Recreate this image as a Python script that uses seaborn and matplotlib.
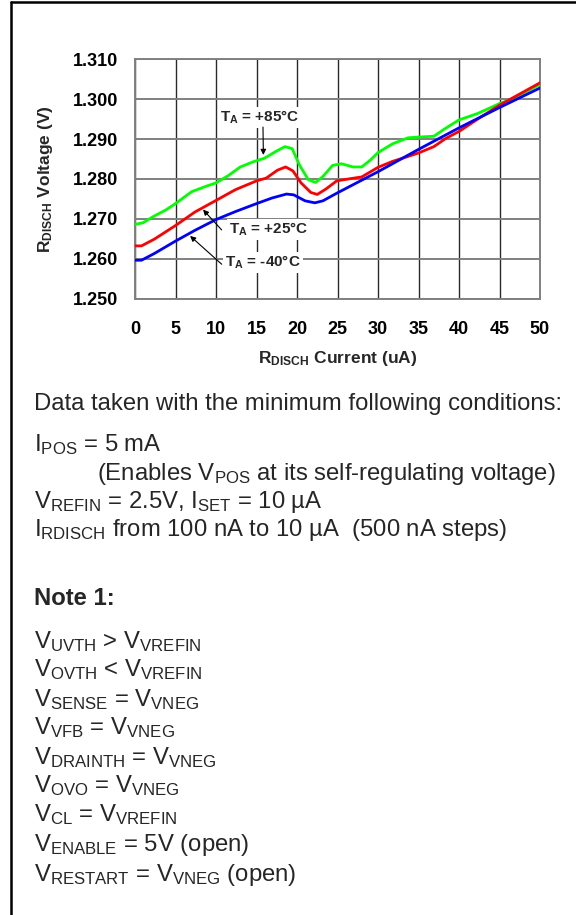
import pandas as pd
import matplotlib
matplotlib.use('Agg')
import matplotlib.pyplot as plt
import seaborn as sns
from matplotlib.lines import Line2D

# values
x_85 = [0, 1, 2.3, 3.8, 5, 7, 8.7, 10, 11.5, 13, 14.6, 16, 17.4, 18.5, 19.4,
        20.3, 21.4, 22.3, 23.2, 24.4, 25.5, 26.9, 28, 29.1, 30, 31.8, 33.7,
        35, 36.9, 38.2, 40, 42.3, 45, 46.8, 50]
v_85 = [1.2686, 1.2690, 1.2706, 1.2722, 1.2738, 1.2768, 1.2781, 1.2790,
        1.2808, 1.2830, 1.2843, 1.2852, 1.2869, 1.2881, 1.2876, 1.2835,
        1.2798, 1.2791, 1.2806, 1.2834, 1.2838, 1.2830, 1.2830, 1.2848,
        1.2866, 1.2888, 1.2903, 1.2905, 1.2907, 1.2925, 1.2948, 1.2964,
        1.2989, 1.3002, 1.3037]

x_25 = [0, 0.8, 2.4, 5, 7.4, 10, 12.4, 15, 16.2, 17.6, 18.6, 19.5, 20.5, 21.7,
        22.5, 23.6, 24.9, 26.4, 28, 30, 31.8, 33.5, 35, 36.9, 38.4, 40, 42.3,
        45, 50]
v_25 = [1.2632, 1.2632, 1.2649, 1.2683, 1.2717, 1.2746, 1.2773, 1.2795,
        1.2802, 1.2822, 1.2830, 1.2820, 1.2790, 1.2766, 1.2761, 1.2775,
        1.2795, 1.2800, 1.2805, 1.2829, 1.2844, 1.2855, 1.2865, 1.2881,
        1.2902, 1.2919, 1.2950, 1.2985, 1.3041]

x_m40 = [0, 0.8, 2.4, 5, 7.4, 10, 12.4, 15, 16.9, 18.7, 19.6, 21, 22.2, 23.2,
         24.9, 30, 35, 40, 45, 50]
v_m40 = [1.2596, 1.2596, 1.2613, 1.2644, 1.2671, 1.2698, 1.2718, 1.2738,
         1.2752, 1.2762, 1.2760, 1.2745, 1.2740, 1.2745, 1.2764, 1.2818,
         1.2874, 1.2928, 1.2979, 1.3028]

series_names = ['+85', '+25', '-40']
series_colors = ['#00ff00', '#ff0000', '#0000ff']

x_ticks = [0, 5, 10, 15, 20, 25, 30, 35, 40, 45, 50]
y_ticks = [1.250, 1.260, 1.270, 1.280, 1.290, 1.300, 1.310]

# label text, position (x, v), arrow start, arrow end
labels = [
    (r'$\mathbf{T_A}$ = +85°C', (15.4, 1.2955), (15.8, 1.2930), (15.85, 1.2860)),
    (r'$\mathbf{T_A}$ = +25°C', (16.5, 1.2673), (10.7, 1.2672), (8.4, 1.2723)),
    (r'$\mathbf{T_A}$ = -40°C', (15.8, 1.2591), (10.7, 1.2586), (6.8, 1.2657)),
]

notes_top = [
    (r'Data taken with the minimum following conditions:', 34, 410),
    (r'$\mathrm{I_{POS}}$ = 5 mA', 34, 451),
    (r'(Enables $\mathrm{V_{POS}}$ at its self-regulating voltage)', 97, 480),
    (r'$\mathrm{V_{REFIN}}$ = 2.5V, $\mathrm{I_{SET}}$ = 10 µA', 34, 508),
    (r'$\mathrm{I_{RDISCH}}$ from 100 nA to 10 µA  (500 nA steps)', 34, 536),
]
notes_bottom = [
    r'$\mathrm{V_{UVTH}}$ > $\mathrm{V_{VREFIN}}$',
    r'$\mathrm{V_{OVTH}}$ < $\mathrm{V_{VREFIN}}$',
    r'$\mathrm{V_{SENSE}}$ = $\mathrm{V_{VNEG}}$',
    r'$\mathrm{V_{VFB}}$ = $\mathrm{V_{VNEG}}$',
    r'$\mathrm{V_{DRAINTH}}$ = $\mathrm{V_{VNEG}}$',
    r'$\mathrm{V_{OVO}}$ = $\mathrm{V_{VNEG}}$',
    r'$\mathrm{V_{CL}}$ = $\mathrm{V_{VREFIN}}$',
    r'$\mathrm{V_{ENABLE}}$ = 5V (open)',
    r'$\mathrm{V_{RESTART}}$ = $\mathrm{V_{VNEG}}$ (open)',
]

sns.set_theme(style='white')
plt.rcParams['font.family'] = ['Liberation Sans', 'DejaVu Sans']
plt.rcParams['mathtext.fontset'] = 'custom'
plt.rcParams['mathtext.rm'] = 'Liberation Sans'
plt.rcParams['mathtext.it'] = 'Liberation Sans:italic'
plt.rcParams['mathtext.bf'] = 'Liberation Sans:bold'

W, H = 576, 915
fig = plt.figure(figsize=(W / 100, H / 100), dpi=100)
fig.patch.set_facecolor('white')

ax_l, ax_r, ax_t, ax_b = 135, 540, 59.3, 298.5
ax = fig.add_axes([ax_l / W, 1 - ax_b / H, (ax_r - ax_l) / W, (ax_b - ax_t) / H])

df = pd.concat([
    pd.DataFrame({'current': x_85, 'voltage': v_85, 'temp': series_names[0]}),
    pd.DataFrame({'current': x_25, 'voltage': v_25, 'temp': series_names[1]}),
    pd.DataFrame({'current': x_m40, 'voltage': v_m40, 'temp': series_names[2]}),
])
sns.lineplot(data=df, x='current', y='voltage', hue='temp',
             palette=dict(zip(series_names, series_colors)),
             estimator=None, sort=False, legend=False, lw=2.0, ax=ax, zorder=4)

ax.set_xlim(0, 50)
ax.set_ylim(1.250, 1.310)
ax.set_xticks(x_ticks)
ax.set_yticks(y_ticks)
ax.set_xticklabels([str(t) for t in x_ticks])
ax.set_yticklabels([f'{t:.3f}' for t in y_ticks])
ax.set_axisbelow(True)
ax.xaxis.grid(True, color='#2a2a2a', lw=1.0)
ax.yaxis.grid(True, color='#808080', lw=1.4)
for sp in ax.spines.values():
    sp.set_color('#808080')
    sp.set_linewidth(1.4)
ax.tick_params(axis='x', direction='out', length=5, width=1.2, color='#808080',
               pad=11, labelsize=13)
ax.tick_params(axis='y', direction='out', length=7, width=1.2, color='#808080',
               pad=5, labelsize=13)
for lab in ax.get_xticklabels() + ax.get_yticklabels():
    lab.set_fontweight('bold')
    lab.set_color('black')
ax.set_xlabel('')
ax.set_ylabel('')

fig.text((ax_l + ax_r) / 2 / W, 1 - 363 / H, r'$\mathbf{R_{DISCH}}$ Current (uA)',
         ha='center', va='baseline', fontsize=12.5, fontweight='bold')
fig.text(46 / W, 1 - (ax_t + ax_b) / 2 / H, r'$\mathbf{R_{DISCH}}$ Voltage (V)',
         ha='center', va='center', rotation=90, fontsize=12.5, fontweight='bold')

for text, pos, start, end in labels:
    ax.text(pos[0], pos[1], text, ha='center', va='center', fontsize=11,
            fontweight='bold', zorder=3,
            bbox=dict(boxstyle='square,pad=0.12', fc='white', ec='none'))
    ax.annotate('', xy=end, xytext=start, zorder=5,
                arrowprops=dict(arrowstyle='-|>', color='black', lw=0.8,
                                mutation_scale=8, shrinkA=0, shrinkB=0))

body_size = 17.2
for text, x, y in notes_top:
    fig.text(x / W, 1 - y / H, text, ha='left', va='baseline', fontsize=body_size)

fig.text(34 / W, 1 - 605 / H, 'Note 1:', ha='left', va='baseline',
         fontsize=body_size, fontweight='bold')

bottom_y = [648, 676.5, 706, 734, 764, 792, 821.5, 851, 880.5]
for text, y in zip(notes_bottom, bottom_y):
    fig.text(34 / W, 1 - y / H, text, ha='left', va='baseline', fontsize=body_size)

# frame around the whole figure (top and left edges visible)
fig.add_artist(Line2D([11 / W, 1.01], [1 - 2 / H, 1 - 2 / H], color='black',
                      lw=1.8, transform=fig.transFigure))
fig.add_artist(Line2D([11 / W, 11 / W], [-0.01, 1 - 2 / H], color='black',
                      lw=1.8, transform=fig.transFigure))

fig.savefig('out.png', dpi=100, facecolor='white')
